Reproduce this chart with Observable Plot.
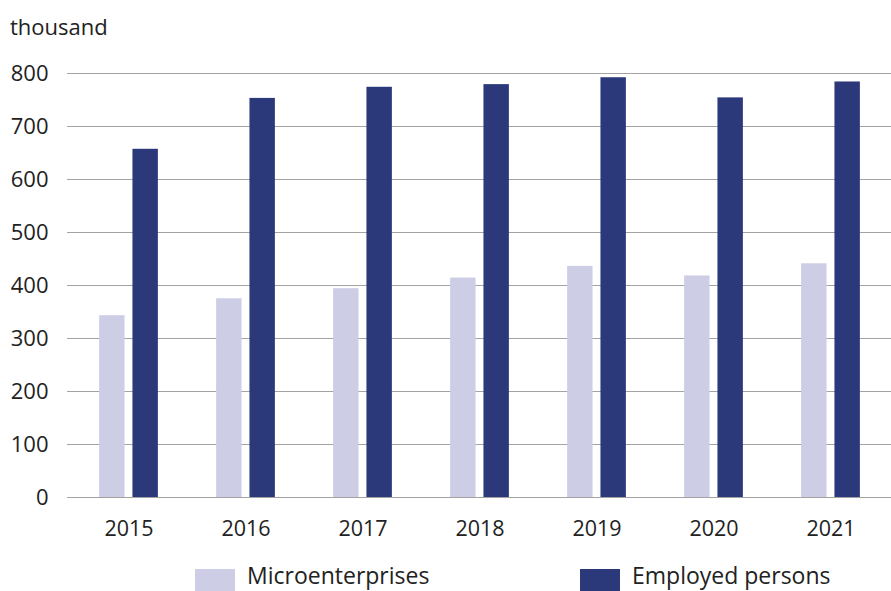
<!DOCTYPE html>
<html>
<head>
<meta charset="utf-8">
<script src="https://cdn.jsdelivr.net/npm/d3@7"></script>
<script src="https://cdn.jsdelivr.net/npm/@observablehq/plot@0.6"></script>
<style>
  html, body { margin: 0; padding: 0; background: #fff; }
  body { width: 891px; height: 591px; overflow: hidden; font-family: "Open Sans", sans-serif; color: #222; }
  #wrap { position: relative; width: 891px; height: 591px; }
  #unit { position: absolute; left: 10px; top: 13px; font-size: 22px; line-height: 1.2; color: #222; }
  #chart { position: absolute; left: 0; top: 0; }
  #legend { position: absolute; top: 564px; left: 0; width: 891px; height: 27px; }
  .item { position: absolute; top: 0; display: flex; align-items: flex-start; font-size: 23px; line-height: 1; color: #222; }
  .sw { width: 40px; height: 22px; margin-right: 12px; margin-top: 5px; }
</style>
</head>
<body>
<div id="wrap">
  <div id="chart"></div>
  <div id="unit">thousand</div>
  <div id="legend"></div>
</div>
<script>
const years = ["2015", "2016", "2017", "2018", "2019", "2020", "2021"];
const seriesNames = ["Microenterprises", "Employed persons"];
const microenterprises = [343, 375, 394, 414, 436, 418, 441];
const employedPersons = [657, 753, 774, 779, 792, 754, 784];
const yTicks = [0, 100, 200, 300, 400, 500, 600, 700, 800];
const colors = ["#cdcee6", "#2b387a"];

const W = 891, H = 545, mL = 67, mR = 0, mT = 73, mB = 48;
const bw = (W - mL - mR) / years.length;
// group layout as fractions of the year band
const barW = bw * 0.222, gap = bw * 0.061, outer = (bw - 2 * barW - gap) / 2;

const microData = years.map((y, i) => ({year: y, series: seriesNames[0], value: microenterprises[i]}));
const empData = years.map((y, i) => ({year: y, series: seriesNames[1], value: employedPersons[i]}));

const chart = Plot.plot({
  width: W, height: H,
  marginLeft: mL, marginRight: mR, marginTop: mT, marginBottom: mB,
  style: {fontFamily: "Open Sans, sans-serif", fontSize: "21px", color: "#222", background: "transparent"},
  x: {domain: years, padding: 0, label: null},
  y: {domain: [0, 800], label: null},
  color: {domain: seriesNames, range: colors},
  marks: [
    Plot.ruleY(yTicks, {stroke: "#a3a3a3", strokeWidth: 1.2}),
    Plot.barY(microData, {x: "year", y: "value", fill: "series", insetLeft: outer, insetRight: outer + barW + gap}),
    Plot.barY(empData, {x: "year", y: "value", fill: "series", insetLeft: outer + barW + gap, insetRight: outer}),
    Plot.axisY(yTicks, {tickSize: 0, tickPadding: 19, label: null, fontSize: 22}),
    Plot.axisX({tickSize: 0, tickPadding: 23, label: null, fontSize: 21.5})
  ]
});
document.getElementById("chart").appendChild(chart);

const legend = document.getElementById("legend");
const lefts = [195, 580];
seriesNames.forEach((name, i) => {
  const item = document.createElement("div");
  item.className = "item";
  item.style.left = lefts[i] + "px";
  const sw = document.createElement("div");
  sw.className = "sw";
  sw.style.background = colors[i];
  const t = document.createElement("span");
  t.textContent = name;
  item.appendChild(sw);
  item.appendChild(t);
  legend.appendChild(item);
});
</script>
</body>
</html>
